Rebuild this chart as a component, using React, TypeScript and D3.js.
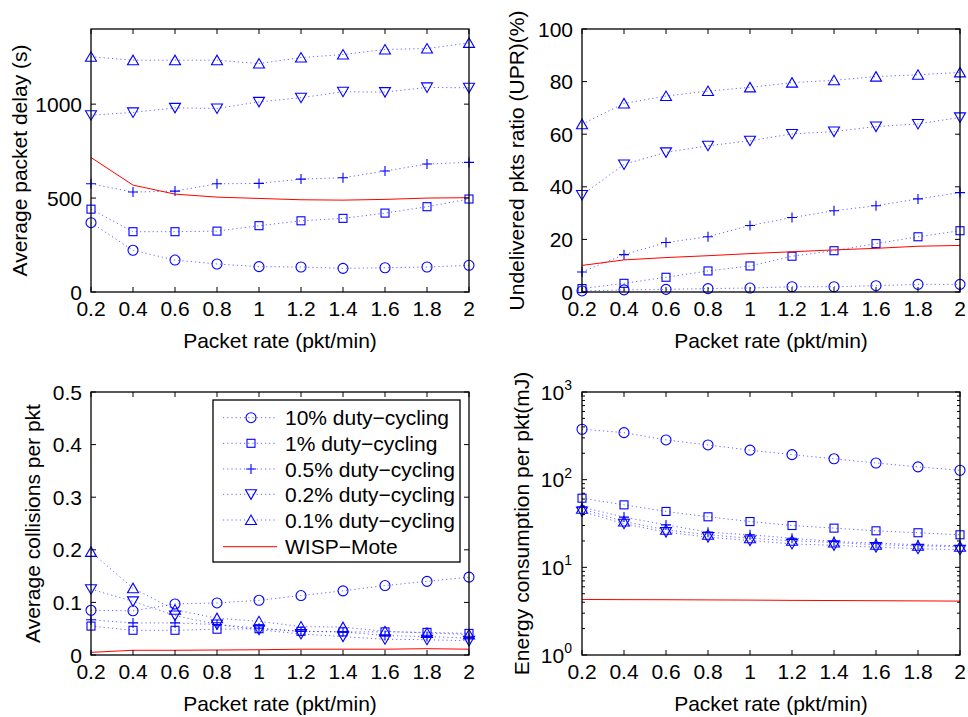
import React from "react";
import * as d3 from "d3";

// ---------- data ----------
const rates = [0.2, 0.4, 0.6, 0.8, 1.0, 1.2, 1.4, 1.6, 1.8, 2.0];
const xTickLabels = ["0.2", "0.4", "0.6", "0.8", "1", "1.2", "1.4", "1.6", "1.8", "2"];

const seriesNames = [
  "10% duty\u2212cycling",
  "1% duty\u2212cycling",
  "0.5% duty\u2212cycling",
  "0.2% duty\u2212cycling",
  "0.1% duty\u2212cycling",
  "WISP\u2212Mote",
];
const seriesMarkers = ["circle", "square", "plus", "down", "up", "none"];

// Average packet delay (s)
const delayDC10 = [369, 222, 170, 149, 135, 133, 126, 129, 133, 142];
const delayDC1 = [441, 321, 321, 324, 353, 379, 392, 420, 454, 495];
const delayDC05 = [576, 532, 537, 576, 578, 601, 608, 644, 681, 690];
const delayDC02 = [941, 956, 980, 977, 1012, 1034, 1066, 1064, 1089, 1087];
const delayDC01 = [1252, 1234, 1234, 1234, 1216, 1248, 1264, 1291, 1296, 1326];
const delayWISP = [716, 569, 521, 505, 498, 491, 489, 493, 500, 502];

// Undelivered pkts ratio (%)
const uprDC10 = [0.4, 0.8, 1.0, 1.3, 1.5, 2.0, 2.0, 2.4, 2.9, 2.9];
const uprDC1 = [1.3, 3.3, 5.6, 8.0, 9.9, 13.6, 15.7, 18.4, 21.0, 23.3];
const uprDC05 = [7.6, 14.2, 18.8, 21.0, 25.3, 28.3, 30.9, 32.8, 35.4, 37.8];
const uprDC02 = [36.9, 48.5, 53.1, 55.6, 57.5, 60.1, 61.0, 62.9, 63.9, 66.4];
const uprDC01 = [63.8, 71.7, 74.5, 76.4, 77.8, 79.6, 80.5, 81.9, 82.6, 83.5];
const uprWISP = [10.1, 12.2, 13.1, 13.8, 14.6, 15.3, 16.0, 16.6, 17.4, 17.7];

// Average collisions per pkt
const colDC10 = [0.085, 0.084, 0.097, 0.099, 0.104, 0.113, 0.122, 0.132, 0.14, 0.148];
const colDC1 = [0.055, 0.047, 0.047, 0.049, 0.05, 0.045, 0.044, 0.044, 0.043, 0.041];
const colDC05 = [0.067, 0.061, 0.061, 0.058, 0.051, 0.045, 0.044, 0.037, 0.035, 0.032];
const colDC02 = [0.125, 0.102, 0.075, 0.058, 0.048, 0.04, 0.035, 0.03, 0.029, 0.027];
const colDC01 = [0.196, 0.127, 0.086, 0.07, 0.064, 0.054, 0.053, 0.045, 0.042, 0.039];
const colWISP = [0.005, 0.009, 0.009, 0.0095, 0.01, 0.011, 0.011, 0.011, 0.012, 0.011];

// Energy consumption per pkt (mJ)
const enDC10 = [376, 344, 284, 249, 217, 193, 173, 155, 140, 128];
const enDC1 = [61.5, 51.6, 43.4, 37.7, 33.3, 30.0, 28.0, 26.1, 24.8, 23.5];
const enDC05 = [48.6, 37.4, 30.5, 25.2, 23.5, 21.5, 19.7, 18.9, 18.1, 17.6];
const enDC02 = [43.4, 31.4, 25.2, 22.1, 20.2, 18.5, 17.8, 17.0, 16.3, 15.9];
const enDC01 = [46.5, 33.3, 26.8, 23.5, 21.5, 20.1, 19.2, 18.1, 17.6, 17.2];
const enWISP = [4.3, 4.28, 4.27, 4.25, 4.23, 4.2, 4.18, 4.16, 4.14, 4.12];

const delayTicks = [0, 500, 1000];
const uprTicks = [0, 20, 40, 60, 80, 100];
const colTicks = [0, 0.1, 0.2, 0.3, 0.4, 0.5];
const energyExps = [0, 1, 2, 3];

// ---------- styling ----------
const FONT = "Liberation Sans, Arial, Helvetica, sans-serif";
const FS = 21;
const BLUE = "#0000ff";
const RED = "#ff0000";

type Panel = {
  left: number; right: number; top: number; bottom: number;
  ylabel: string; ylabelX: number;
  log: boolean; domain: [number, number];
  ticks: number[]; tickFmt?: (v: number) => string;
  series: number[][];
};

const panels: Panel[] = [
  {
    left: 91, right: 469, top: 29, bottom: 292,
    ylabel: "Average packet delay (s)", ylabelX: 27,
    log: false, domain: [0, 1400], ticks: delayTicks,
    series: [delayDC10, delayDC1, delayDC05, delayDC02, delayDC01, delayWISP],
  },
  {
    left: 582, right: 960, top: 29, bottom: 292,
    ylabel: "Undelivered pkts ratio (UPR)(%)", ylabelX: 524,
    log: false, domain: [0, 100], ticks: uprTicks,
    series: [uprDC10, uprDC1, uprDC05, uprDC02, uprDC01, uprWISP],
  },
  {
    left: 91, right: 469, top: 392, bottom: 655,
    ylabel: "Average collisions per pkt", ylabelX: 40,
    log: false, domain: [0, 0.5], ticks: colTicks,
    tickFmt: (v) => (v === 0 ? "0" : v.toFixed(1)),
    series: [colDC10, colDC1, colDC05, colDC02, colDC01, colWISP],
  },
  {
    left: 582, right: 960, top: 392, bottom: 655,
    ylabel: "Energy consumption per pkt(mJ)", ylabelX: 529,
    log: true, domain: [1, 1000], ticks: energyExps.map((e) => Math.pow(10, e)),
    series: [enDC10, enDC1, enDC05, enDC02, enDC01, enWISP],
  },
];

function Marker({ type, x, y }: { type: string; x: number; y: number }) {
  const common = { fill: "none", stroke: BLUE, strokeWidth: 1.1 };
  if (type === "circle") return <circle cx={x} cy={y} r={5} {...common} />;
  if (type === "square") return <rect x={x - 4} y={y - 4} width={8} height={8} {...common} />;
  if (type === "plus")
    return <path d={`M${x - 5},${y}H${x + 5}M${x},${y - 5}V${y + 5}`} {...common} />;
  if (type === "down")
    return <path d={`M${x - 5.5},${y - 4.5}L${x + 5.5},${y - 4.5}L${x},${y + 5}Z`} {...common} />;
  if (type === "up")
    return <path d={`M${x - 5.5},${y + 4.5}L${x + 5.5},${y + 4.5}L${x},${y - 5}Z`} {...common} />;
  return null;
}

function PanelView({ p }: { p: Panel }) {
  const x = d3.scaleLinear().domain([0.2, 2]).range([p.left, p.right]);
  const y = p.log
    ? d3.scaleLog().domain(p.domain).range([p.bottom, p.top])
    : d3.scaleLinear().domain(p.domain).range([p.bottom, p.top]);
  const line = d3
    .line<number>()
    .x((_, i) => x(rates[i]))
    .y((d) => y(d));
  const cx = (p.left + p.right) / 2;
  const cy = (p.top + p.bottom) / 2;
  const TL = 5;

  const minor: number[] = [];
  if (p.log) {
    for (let e = 0; e < 3; e++)
      for (let k = 2; k <= 9; k++) minor.push(k * Math.pow(10, e));
  }

  return (
    <g>
      {/* series */}
      {p.series.map((s, si) => {
        const isRed = seriesMarkers[si] === "none";
        return (
          <g key={si}>
            <path
              d={line(s) || ""}
              fill="none"
              stroke={isRed ? RED : BLUE}
              strokeWidth={1}
              strokeDasharray={isRed ? undefined : "1.2,3"}
              strokeOpacity={isRed ? 1 : 0.6}
            />
            {!isRed &&
              s.map((v, i) => (
                <Marker key={i} type={seriesMarkers[si]} x={x(rates[i])} y={y(v)} />
              ))}
          </g>
        );
      })}
      {/* box */}
      <rect
        x={p.left}
        y={p.top}
        width={p.right - p.left}
        height={p.bottom - p.top}
        fill="none"
        stroke="#000"
        strokeWidth={1.3}
      />
      {/* x ticks */}
      {rates.map((r, i) => (
        <g key={i}>
          <line x1={x(r)} x2={x(r)} y1={p.bottom} y2={p.bottom - TL} stroke="#000" />
          <line x1={x(r)} x2={x(r)} y1={p.top} y2={p.top + TL} stroke="#000" />
          <text
            x={x(r)}
            y={p.bottom + 24}
            textAnchor="middle"
            fontSize={FS}
            fontFamily={FONT}
            fill="#000"
          >
            {xTickLabels[i]}
          </text>
        </g>
      ))}
      {/* y ticks */}
      {p.ticks.map((t, i) => (
        <g key={i}>
          <line x1={p.left} x2={p.left + TL} y1={y(t)} y2={y(t)} stroke="#000" />
          <line x1={p.right} x2={p.right - TL} y1={y(t)} y2={y(t)} stroke="#000" />
          {p.log ? (
            <text
              x={p.left - 10}
              y={y(t) + 7.5}
              textAnchor="end"
              fontSize={FS}
              fontFamily={FONT}
              fill="#000"
            >
              10
              <tspan dy={-9.5} fontSize={14}>
                {String(Math.round(Math.log10(t)))}
              </tspan>
            </text>
          ) : (
            <text
              x={p.left - 9}
              y={y(t)}
              dy="0.36em"
              textAnchor="end"
              fontSize={FS}
              fontFamily={FONT}
              fill="#000"
            >
              {p.tickFmt ? p.tickFmt(t) : String(t)}
            </text>
          )}
        </g>
      ))}
      {minor.map((t, i) => (
        <g key={"m" + i}>
          <line x1={p.left} x2={p.left + 3} y1={y(t)} y2={y(t)} stroke="#000" />
          <line x1={p.right} x2={p.right - 3} y1={y(t)} y2={y(t)} stroke="#000" />
        </g>
      ))}
      {/* axis labels */}
      <text
        x={cx}
        y={p.bottom + 56}
        textAnchor="middle"
        fontSize={FS}
        fontFamily={FONT}
        fill="#000"
      >
        Packet rate (pkt/min)
      </text>
      <text
        transform={`translate(${p.ylabelX},${cy}) rotate(-90)`}
        textAnchor="middle"
        fontSize={FS}
        fontFamily={FONT}
        fill="#000"
      >
        {p.ylabel}
      </text>
    </g>
  );
}

function Legend() {
  const left = 213, top = 400, right = 460, bottom = 562;
  const rowY = [417.7, 443.3, 469, 494.3, 520, 546.7];
  return (
    <g>
      <rect
        x={left}
        y={top}
        width={right - left}
        height={bottom - top}
        fill="#fff"
        stroke="#000"
        strokeWidth={1.3}
      />
      {seriesNames.map((name, i) => {
        const isRed = seriesMarkers[i] === "none";
        return (
          <g key={i}>
            <line
              x1={223}
              x2={277}
              y1={rowY[i]}
              y2={rowY[i]}
              stroke={isRed ? RED : BLUE}
              strokeWidth={1}
              strokeDasharray={isRed ? undefined : "1.2,3"}
              strokeOpacity={isRed ? 1 : 0.6}
            />
            {!isRed && <Marker type={seriesMarkers[i]} x={251} y={rowY[i]} />}
            <text
              x={285}
              y={rowY[i]}
              dy="0.36em"
              fontSize={FS}
              fontFamily={FONT}
              fill="#000"
            >
              {name}
            </text>
          </g>
        );
      })}
    </g>
  );
}

export default function App() {
  return (
    <svg
      width={968}
      height={717}
      viewBox="0 0 968 717"
      style={{ position: "absolute", left: 0, top: 0, background: "#fff" }}
    >
      <rect x={0} y={0} width={968} height={717} fill="#fff" />
      {panels.map((p, i) => (
        <PanelView key={i} p={p} />
      ))}
      <Legend />
    </svg>
  );
}
